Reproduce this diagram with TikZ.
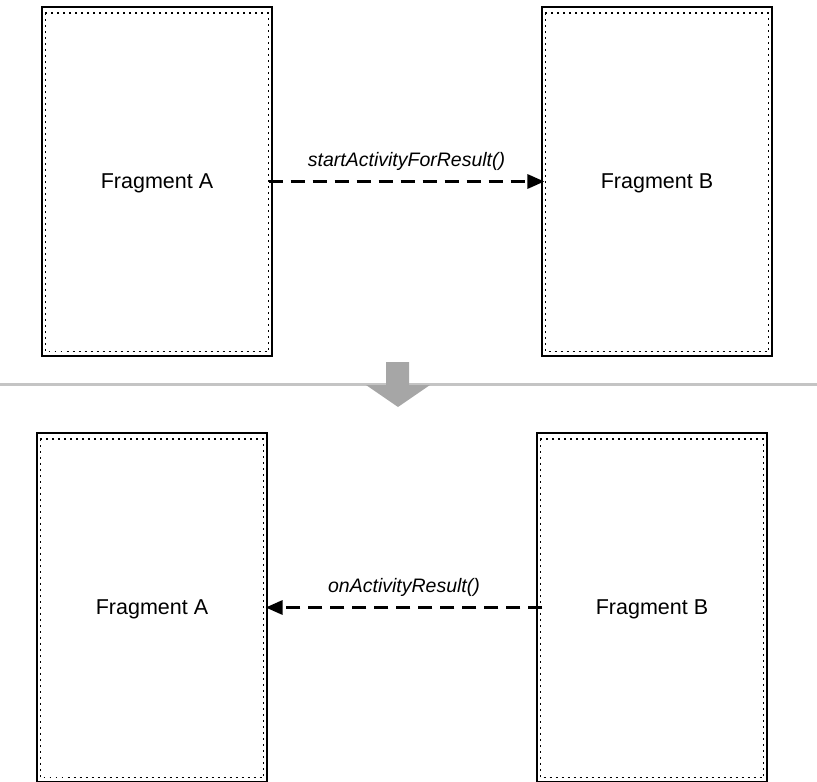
\documentclass[tikz,border=0pt]{standalone}
\usepackage{fontspec}
\setmainfont{Liberation Sans}
\definecolor{mGrey}{HTML}{A6A6A6}
\definecolor{mRule}{HTML}{C4C4C4}
\usetikzlibrary{arrows.meta, positioning}

\begin{document}
\begin{tikzpicture}[x=1pt, y=-1pt,
  frag/.style={draw, line width=1.2pt, minimum width=230pt, minimum height=349pt,
               inner sep=0pt, text depth=0pt, font=\fontsize{21.5}{25}\selectfont},
  call/.style={line width=3.2pt, dash pattern=on 14pt off 8pt,
               -{Triangle[length=17pt, width=14pt]}},
  lbl/.style={font=\fontsize{19.5}{23}\selectfont\itshape, above=6pt, midway}]
\useasboundingbox (0,0) rectangle (817,782);
% top: A starts B
\node[frag] (fragA) at (157,181.5) {Fragment A};
\node[frag] (fragB) at (657,181.5) {Fragment B};
% bottom: B returns to A
\node[frag] (retA) at (152,607.5) {Fragment A};
\node[frag] (retB) at (652,607.5) {Fragment B};
\foreach \n in {fragA, fragB, retA, retB}
  \draw[line width=1.3pt, dash pattern=on 1.8pt off 4.2pt]
    ([xshift=4pt, yshift=-6.5pt]\n.north west) rectangle ([xshift=-4pt, yshift=5pt]\n.south east);
\draw[call] ([xshift=-4pt]fragA.east) -- ([xshift=3pt]fragB.west) node[lbl] {startActivityForResult()};
\draw[call] ([xshift=6pt]retB.west) -- ([xshift=-2pt]retA.east) node[lbl] {onActivityResult()};
% divider and step arrow
\coordinate (ruleL) at (0,384);
\coordinate (ruleR) at (817,384);
\draw[mRule, line width=3pt] (ruleL) -- (ruleR);
\fill[mGrey] (386,362) -- (409,362) -- (409,385) -- (430,385) -- (398,407)
  -- (366,385) -- (386,385) -- cycle;
\end{tikzpicture}
\end{document}
